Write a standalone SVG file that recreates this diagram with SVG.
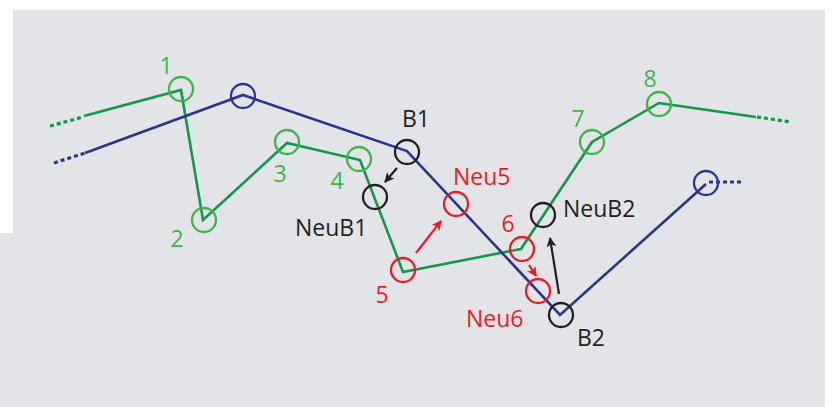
<svg xmlns="http://www.w3.org/2000/svg" width="836" height="407" viewBox="0 0 836 407">
  <defs>
    <style>
      .bg { fill: #e3e4e8; }
      .gl { fill: none; stroke: #12984a; stroke-width: 2.6; stroke-linejoin: miter; }
      .bl { fill: none; stroke: #2b3592; stroke-width: 2.6; stroke-linejoin: miter; }
      .dot { stroke-dasharray: 4 3; stroke-width: 3.2; }
      .cg { fill: none; stroke: #3cb54a; stroke-width: 2.3; }
      .cb { fill: none; stroke: #2b3592; stroke-width: 2.3; }
      .ck { fill: none; stroke: #231f20; stroke-width: 2.3; }
      .cr { fill: none; stroke: #ec1c24; stroke-width: 2.3; }
      text { font-family: "Open Sans", "Liberation Sans", sans-serif; font-size: 23px; }
      .tg { fill: #3cb54a; text-anchor: middle; }
      .tr { fill: #ec1c24; }
      .tk { fill: #231f20; }
      .ak { stroke: #231f20; stroke-width: 2.2; fill: none; }
      .ar { stroke: #ec1c24; stroke-width: 2.2; fill: none; }
    </style>
    <marker id="headK" viewBox="0 0 10 10" refX="9" refY="5" markerWidth="4.5" markerHeight="4.5" orient="auto" markerUnits="strokeWidth">
      <path d="M0,0 L10,5 L0,10 L2.5,5 Z" fill="#231f20"/>
    </marker>
    <marker id="headR" viewBox="0 0 10 10" refX="9" refY="5" markerWidth="4.5" markerHeight="4.5" orient="auto" markerUnits="strokeWidth">
      <path d="M0,0 L10,5 L0,10 L2.5,5 Z" fill="#ec1c24"/>
    </marker>
  </defs>

  <!-- background panel -->
  <path class="bg" d="M13,10 H825 V407 H0 V233 H13 Z"/>

  <g id="connectors">
    <!-- green polyline -->
    <path class="gl dot" d="M50,126 L83,117"/>
    <path class="gl" d="M84,116 L181,90 L203,220 L287,143 L360,160 L403,272 L521,249 L592,142 L659,103 L756,117"/>
    <path class="gl dot" d="M757,117 L791,122"/>
    <!-- blue polyline -->
    <path class="bl dot" d="M54,163 L85,153"/>
    <path class="bl" d="M85,153 L243,95 L407,151 L560,315 L706,184"/>
    <path class="bl dot" d="M709,182 L744,182"/>
    <!-- displacement arrows -->
    <path class="ak" d="M397,168 L385,182" marker-end="url(#headK)"/>
    <path class="ar" d="M416,253 L441,221" marker-end="url(#headR)"/>
    <path class="ar" d="M529,265 L536,276" marker-end="url(#headR)"/>
    <path class="ak" d="M559,294 L550,238" marker-end="url(#headK)"/>
  </g>

  <g id="p1"><circle class="cg" cx="181" cy="89" r="12"/><text class="tg" x="166" y="74">1</text></g>
  <g id="p2"><circle class="cg" cx="204" cy="220" r="12"/><text class="tg" x="177" y="247">2</text></g>
  <g id="p3"><circle class="cg" cx="287" cy="142" r="12"/><text class="tg" x="280" y="182">3</text></g>
  <g id="p4"><circle class="cg" cx="359" cy="159" r="12"/><text class="tg" x="337" y="189">4</text></g>
  <g id="p5"><circle class="cr" cx="403" cy="270" r="12"/><text class="tr" x="382" y="303" text-anchor="middle">5</text></g>
  <g id="p6"><circle class="cr" cx="522" cy="249" r="12"/><text class="tr" x="508" y="232" text-anchor="middle">6</text></g>
  <g id="p7"><circle class="cg" cx="592" cy="142" r="12"/><text class="tg" x="578" y="127">7</text></g>
  <g id="p8"><circle class="cg" cx="659" cy="104" r="12"/><text class="tg" x="650" y="87">8</text></g>

  <g id="blueA"><circle class="cb" cx="243" cy="96" r="12"/></g>
  <g id="blueB"><circle class="cb" cx="706" cy="183" r="12"/></g>

  <g id="b1"><circle class="ck" cx="407" cy="152" r="12"/><text class="tk" x="402" y="127">B1</text></g>
  <g id="neub1"><circle class="ck" cx="375" cy="197" r="12"/><text class="tk" x="295" y="236">NeuB1</text></g>
  <g id="b2"><circle class="ck" cx="561" cy="315" r="12"/><text class="tk" x="577" y="346">B2</text></g>
  <g id="neub2"><circle class="ck" cx="543" cy="215" r="12"/><text class="tk" x="563" y="217">NeuB2</text></g>
  <g id="neu5"><circle class="cr" cx="456" cy="204" r="12"/><text class="tr" x="453" y="185">Neu5</text></g>
  <g id="neu6"><circle class="cr" cx="538" cy="291" r="12"/><text class="tr" x="466" y="327">Neu6</text></g>
</svg>
